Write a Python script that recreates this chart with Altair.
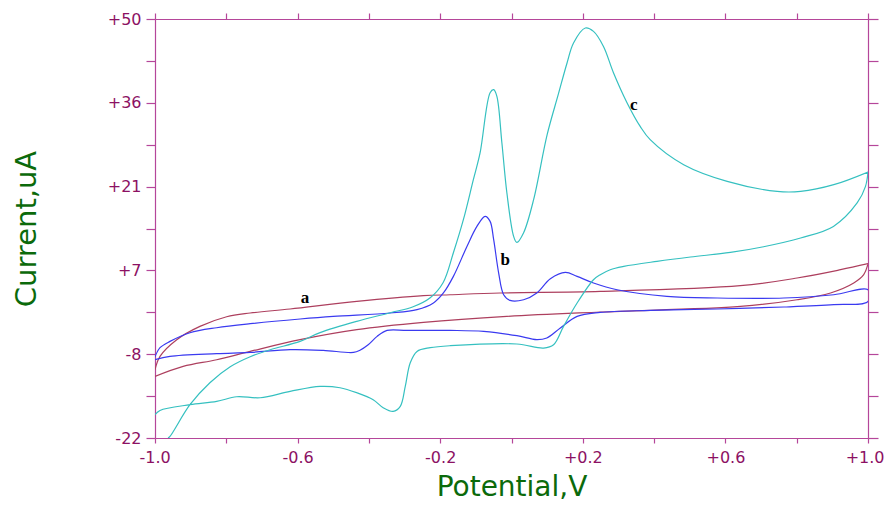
import altair as alt
import pandas as pd

# ---- curve a (maroon) ----
A_FWD_V = [-1.0, -0.921, -0.827, -0.733, -0.593, -0.434, -0.247, -0.013, 0.249, 0.642, 0.801, 0.895, 0.960, 0.988, 1.0]
A_FWD_I = [-11.42, -9.70, -8.55, -7.12, -5.11, -3.39, -2.14, -1.10, -0.35, 0.61, 1.76, 2.92, 4.63, 6.06, 7.95]
A_REV_V = [1.0, 0.923, 0.801, 0.642, 0.249, -0.032, -0.172, -0.247, -0.434, -0.621, -0.733, -0.799, -0.874, -0.939, -0.986, -1.0]
A_REV_I = [7.95, 6.92, 5.49, 4.17, 3.19, 2.92, 2.62, 2.45, 1.47, 0.17, -0.52, -1.16, -2.82, -5.11, -7.98, -10.26]

# ---- curve b (blue) ----
B_FWD_V = [-1.0, -0.986, -0.958, -0.902, -0.827, -0.733, -0.593, -0.500, -0.340, -0.265, -0.219, -0.191,
           -0.163, -0.125, -0.097, -0.074, -0.060, -0.050, -0.036, -0.022, -0.004, 0.034, 0.071, 0.109,
           0.151, 0.184, 0.230, 0.296, 0.436, 0.577, 0.764, 0.904, 1.0]
B_FWD_I = [-8.03, -6.48, -5.40, -3.91, -3.05, -2.36, -1.55, -1.10, -0.52, 0.05, 1.20, 2.92,
           5.77, 10.92, 14.36, 16.08, 15.22, 12.08, 6.35, 2.62, 1.64, 1.76, 2.92, 5.37,
           6.46, 5.77, 4.63, 3.48, 2.33, 2.06, 2.06, 2.62, 3.48]
B_REV_V = [1.0, 0.904, 0.764, 0.577, 0.389, 0.249, 0.184, 0.137, 0.099, 0.071, 0.015, -0.078, -0.172,
           -0.293, -0.349, -0.377, -0.402, -0.425, -0.443, -0.528, -0.621, -0.733, -0.827, -0.958, -1.0]
B_REV_I = [1.47, 0.91, 0.51, 0.17, -0.07, -0.42, -1.10, -3.10, -4.82, -5.11, -4.42, -3.68, -3.51,
           -3.51, -3.51, -4.54, -5.97, -6.91, -7.29, -6.95, -6.83, -7.29, -7.51, -7.98, -8.55]

# ---- curve c (cyan) ----
C_FWD_V = [-0.9635, -0.958, -0.902, -0.846, -0.789, -0.733, -0.677, -0.593, -0.537, -0.434, -0.340,
           -0.276, -0.228, -0.192, -0.163, -0.135, -0.107, -0.088, -0.060, -0.050, -0.041, -0.027,
           -0.013, 0.006, 0.015, 0.034, 0.062, 0.100, 0.131, 0.156, 0.174, 0.207, 0.230, 0.258,
           0.286, 0.324, 0.361, 0.389, 0.483, 0.605, 0.745, 0.811, 0.904, 1.0]
C_FWD_I = [-22.0, -21.73, -16.28, -12.5, -9.75, -8.03, -6.83, -5.4, -3.9, -1.96, -0.47,
           0.56, 2.11, 4.69, 9.84, 15.51, 22.39, 27.03, 37.34, 37.85, 36.7, 28.74,
           20.15, 12.64, 11.61, 13.28, 18.95, 30.12, 36.99, 42.49, 45.88, 48.45, 47.87, 45.29,
           40.77, 35.62, 31.54, 29.26, 24.96, 22.09, 20.37, 20.37, 21.53, 23.71]
C_REV_V = [1.0, 0.993, 0.970, 0.903, 0.811, 0.707, 0.614, 0.502, 0.408, 0.315, 0.277, 0.249, 0.230,
           0.184, 0.146, 0.118, 0.090, 0.015, -0.172, -0.228, -0.265, -0.284, -0.298, -0.312, -0.332,
           -0.360, -0.388, -0.434, -0.481, -0.537, -0.621, -0.705, -0.771, -0.827, -0.902, -0.986, -1.0]
C_REV_I = [23.71, 21.23, 18.43, 14.36, 12.37, 10.87, 9.89, 9.10, 8.35, 7.49, 6.92, 6.06, 5.20,
           1.20, -2.82, -5.97, -6.54, -5.85, -6.14, -6.48, -7.12, -9.06, -13.13, -16.57, -17.43,
           -16.79, -15.42, -14.22, -13.36, -13.13, -13.99, -15.08, -14.91, -15.71, -16.28, -17.26, -18.0]

# ---- curve labels ----
LABEL_TEXT = ["a", "b", "c"]
LABEL_V = [-0.579, -0.0175, 0.343]
LABEL_I = [2.11, 8.64, 35.3]

# ---- axes ----
X_TICKS = [-1.0, -0.8, -0.6, -0.4, -0.2, 0.0, 0.2, 0.4, 0.6, 0.8, 1.0]
X_MAJOR = [-1.0, -0.6, -0.2, 0.2, 0.6, 1.0]
X_LABELS = ["-1.0", "-0.6", "-0.2", "+0.2", "+0.6", "+1.0"]
Y_TICKS = [-22, -14.8, -7.6, -0.4, 6.8, 14, 21.2, 28.4, 35.6, 42.8, 50]
Y_MAJOR = [-22, -7.6, 6.8, 21.2, 35.6, 50]
Y_LABELS = ["-22", "-8", "+7", "+21", "+36", "+50"]

COLORS = {"a": "#ad3f5e", "b": "#3a3af0", "c": "#35c0c0"}
AXIS_COLOR = "#b5469a"
LABEL_COLOR = "#8c1163"
TITLE_COLOR = "#0b6a0b"

rows = []
def add(name, vs, is_, start):
    for k, (v, i) in enumerate(zip(vs, is_)):
        rows.append({"curve": name, "V": v, "I": i, "idx": start + k})
    return start + len(vs)

n = add("a", A_FWD_V, A_FWD_I, 0); add("a", A_REV_V, A_REV_I, n)
n = add("b", B_FWD_V, B_FWD_I, 0); add("b", B_REV_V, B_REV_I, n)
n = add("c", C_FWD_V, C_FWD_I, 0); add("c", C_REV_V, C_REV_I, n)
df = pd.DataFrame(rows)
lab = pd.DataFrame({"t": LABEL_TEXT, "V": LABEL_V, "I": LABEL_I})


def label_expr(vals, labels):
    expr = "''"
    for v, l in reversed(list(zip(vals, labels))):
        expr = f"datum.value == {v} ? '{l}' : ({expr})"
    return expr


xscale = alt.Scale(domain=[-1.0, 1.0], nice=False, zero=False)
yscale = alt.Scale(domain=[-22, 50], nice=False, zero=False)

tick_style = dict(grid=False, domainColor=AXIS_COLOR, tickColor=AXIS_COLOR, domainWidth=1.2,
                  tickWidth=1.2, labelColor=LABEL_COLOR, labelFont="DejaVu Sans", labelFontSize=16)
title_style = dict(titleColor=TITLE_COLOR, titleFont="DejaVu Sans", titleFontWeight="normal")

x_bottom = alt.X("V:Q", scale=xscale, axis=alt.Axis(
    orient="bottom", values=X_TICKS, labelExpr=label_expr(X_MAJOR, X_LABELS), tickSize=5,
    labelPadding=6, title="Potential,V", titleBaseline="alphabetic", titleY=57, titleFontSize=28,
    labelOverlap=False, labelFlush=True, labelFlushOffset=16, **tick_style, **title_style))
y_left = alt.Y("I:Q", scale=yscale, axis=alt.Axis(
    orient="left", values=Y_TICKS, labelExpr=label_expr(Y_MAJOR, Y_LABELS), tickSize=9,
    labelPadding=5, title="Current,uA", titleAngle=270, titleBaseline="alphabetic",
    titleAlign="center", titleX=-120, titleY=209.5, titleFontSize=29,
    labelOverlap=False, labelFlush=False, **tick_style, **title_style))

lines = alt.Chart(df).mark_line(strokeWidth=1.2, clip=True, interpolate="catmull-rom").encode(
    x=x_bottom, y=y_left,
    color=alt.Color("curve:N", scale=alt.Scale(domain=list(COLORS.keys()), range=list(COLORS.values())),
                    legend=None),
    order=alt.Order("idx:Q"),
    detail="curve:N",
)

texts = alt.Chart(lab).mark_text(font="Liberation Serif", fontWeight="bold", fontSize=17,
                                 color="black", align="center", baseline="middle").encode(
    x=alt.X("V:Q", scale=xscale), y=alt.Y("I:Q", scale=yscale), text="t:N")

base = alt.layer(lines, texts)

frame = alt.Chart(pd.DataFrame({"V": [-1.0], "I": [-22.0]})).mark_point(opacity=0).encode(
    x=alt.X("V:Q", scale=xscale, axis=alt.Axis(orient="top", values=X_TICKS, labels=False,
                                                 tickSize=6, title=None, **tick_style)),
    y=alt.Y("I:Q", scale=yscale, axis=alt.Axis(orient="right", values=Y_TICKS, labels=False,
                                                 tickSize=10, title=None, **tick_style)),
)

chart = alt.layer(base, frame).resolve_axis(x="independent", y="independent").properties(
    width=713, height=419,
    autosize=alt.AutoSizeParams(type="none"),
    padding={"left": 147, "top": 11, "right": 17, "bottom": 65},
    background="white",
).configure_view(strokeWidth=0)

chart.save("out.html", embed_options={"renderer": "svg", "actions": False})
